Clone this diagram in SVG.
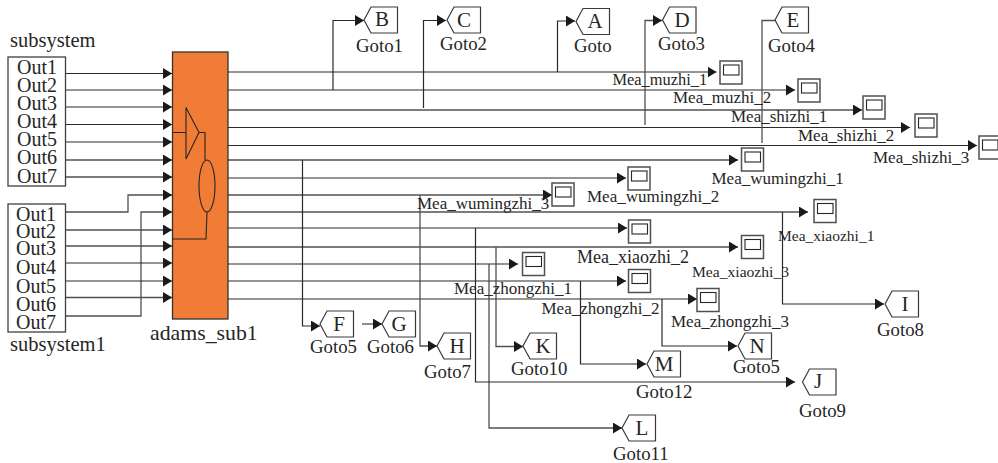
<svg xmlns="http://www.w3.org/2000/svg" width="998" height="463" viewBox="0 0 998 463">
<style>
text{font-family:"Liberation Serif","Times New Roman",serif;fill:#262626}
.lg{font-size:20.500px}
.ou{font-size:20px}
.go{font-size:18.800px}
.me{font-size:17px}
.le{font-size:21px;text-anchor:middle}
.w{fill:none;stroke:#2a2a2a;stroke-width:1.2}
.g{fill:none;stroke:#505050;stroke-width:1.3}
.a{marker-end:url(#arr)}
.box{fill:#fff;stroke:#404040;stroke-width:1.3}
.ic{fill:none;stroke:#262626;stroke-width:1.1}
</style>
<defs>
<marker id="arr" markerUnits="userSpaceOnUse" markerWidth="9" markerHeight="11" refX="9" refY="5.500" orient="auto"><path d="M0 0L9 5.500L0 11Z" fill="#1a1a1a"/></marker>
<polygon id="hex" points="0,13 7,0 33.500,0 33.500,26 7,26" fill="#fff" stroke="#3a3a3a" stroke-width="1.2"/>
<g id="sc"><rect width="22" height="23" fill="#fff" stroke="#505050" stroke-width="1.5"/><rect x="3.500" y="4" width="15.500" height="10" fill="none" stroke="#262626" stroke-width="1.1"/></g>
</defs>
<rect width="998" height="463" fill="#fff"/>
<g id="connectors">
<path class="w a" d="M65 73.500H172"/><path class="w a" d="M65 90H172"/><path class="w a" d="M65 107H172"/><path class="w a" d="M65 124.500H172"/><path class="w a" d="M65 142H172"/><path class="g a" d="M65 160H172"/><path class="g a" d="M65 177H172"/>
<path class="g a" d="M65 212H128V195H172"/><path class="g a" d="M65 316H141V212H172"/><path class="g a" d="M65 230H172"/><path class="g a" d="M65 246H172"/><path class="w a" d="M65 263H172"/><path class="w a" d="M65 281H172"/><path class="g a" d="M65 297.500H172"/>
<path class="w a" d="M228 72H716.500"/><path class="w a" d="M228 90H795"/><path class="g a" d="M228 110H862"/><path class="w a" d="M228 127.500H910"/><path class="w a" d="M228 145.500H977"/><path class="g a" d="M228 160H738"/><path class="w a" d="M228 178H626"/><path class="g a" d="M228 195H552"/>
<path class="g a" d="M228 212H808"/><path class="w a" d="M228 228H627"/><path class="g a" d="M228 247H738"/><path class="w a" d="M228 264H518"/><path class="w a" d="M228 281H626"/><path class="w a" d="M228 299H697"/>
<path class="w a" d="M333 90V20.500H364"/><path class="w a" d="M423.500 108V20.500H446"/><path class="w a" d="M557.500 72V21H575"/><path class="g a" d="M645 125V20.500H662"/><path class="g" d="M762 143V20.500H775"/>
<path class="w a" d="M302.500 160V326H320"/><path class="g a" d="M362 324H382"/><path class="g a" d="M420 195V346H437"/><path class="g a" d="M496 247V346.500H523"/><path class="g a" d="M489 264V428H622"/><path class="w a" d="M475.500 228V382H795"/><path class="w a" d="M580.500 281V364H646"/><path class="w a" d="M662 299V346H737"/><path class="w a" d="M782.500 212V304H884"/>
</g>
<g id="subsystem"><rect class="box" x="8" y="57" width="57.500" height="129"/><text class="lg" x="10" y="47">subsystem</text><text class="ou" x="17" y="74">Out1</text><text class="ou" x="17" y="92">Out2</text><text class="ou" x="17" y="110">Out3</text><text class="ou" x="17" y="128">Out4</text><text class="ou" x="17" y="146">Out5</text><text class="ou" x="17" y="164">Out6</text><text class="ou" x="17" y="183">Out7</text></g>
<g id="subsystem1"><rect class="box" x="8" y="204" width="57.500" height="128"/><text class="ou" x="16" y="220.500">Out1</text><text class="ou" x="16" y="237.500">Out2</text><text class="ou" x="16" y="255">Out3</text><text class="ou" x="16" y="274">Out4</text><text class="ou" x="16" y="292.500">Out5</text><text class="ou" x="16" y="310.500">Out6</text><text class="ou" x="16" y="329">Out7</text><text class="lg" x="10" y="351">subsystem1</text></g>
<g id="adams_sub1"><rect x="172.500" y="52" width="55.500" height="267" fill="#F07C36" stroke="#333" stroke-width="1.300"/><path class="ic" d="M172.500 132.500H186M186 107.500L199 132.500L186 159ZM199 132.500H205V160M207 212L206 239H172.500"/><ellipse class="ic" cx="207" cy="186" rx="8" ry="26"/><text class="lg" style="font-size:21.800px" x="150" y="340">adams_sub1</text></g>
<g id="goto_b"><use href="#hex" x="364" y="7"/><text class="le" x="382" y="26">B</text><text class="go" x="356" y="52">Goto1</text></g>
<g id="goto_c"><use href="#hex" x="447" y="7"/><text class="le" x="464" y="27">C</text><text class="go" x="440" y="50">Goto2</text></g>
<g id="goto_a"><use href="#hex" x="576" y="8.500"/><text class="le" x="595" y="28">A</text><text class="go" x="574" y="52">Goto</text></g>
<g id="goto_d"><use href="#hex" x="662.500" y="7"/><text class="le" x="682" y="27">D</text><text class="go" x="658" y="50">Goto3</text></g>
<g id="goto_e"><use href="#hex" x="775" y="7"/><text class="le" x="793" y="27">E</text><text class="go" x="768" y="52">Goto4</text></g>
<g id="goto_f"><use href="#hex" x="320" y="311"/><text class="le" x="339" y="331">F</text><text class="go" x="310" y="353">Goto5</text></g>
<g id="goto_g"><use href="#hex" x="382" y="311"/><text class="le" x="399" y="331">G</text><text class="go" x="367" y="353">Goto6</text></g>
<g id="goto_h"><use href="#hex" x="437" y="333"/><text class="le" x="457" y="353">H</text><text class="go" x="424" y="378">Goto7</text></g>
<g id="goto_k"><use href="#hex" x="523" y="333"/><text class="le" x="543" y="353">K</text><text class="go" x="511" y="375">Goto10</text></g>
<g id="goto_l"><use href="#hex" x="622" y="415"/><text class="le" x="642" y="435">L</text><text class="go" x="613" y="460">Goto11</text></g>
<g id="goto_m"><use href="#hex" x="647" y="351"/><text class="le" x="664" y="371">M</text><text class="go" x="636" y="398">Goto12</text></g>
<g id="goto_n"><use href="#hex" x="738" y="333"/><text class="le" x="757" y="353">N</text><text class="go" x="733" y="373">Goto5</text></g>
<g id="goto_j"><use href="#hex" x="802.500" y="369"/><text class="le" x="818" y="388">J</text><text class="go" x="799" y="417">Goto9</text></g>
<g id="goto_i"><use href="#hex" x="885" y="291"/><text class="le" x="905" y="311">I</text><text class="go" x="877" y="336">Goto8</text></g>
<g id="mea_muzhi_1"><use href="#sc" x="720" y="61"/><text class="me" x="612.500" y="85" style="font-size:16.400px">Mea_muzhi_1</text></g>
<g id="mea_muzhi_2"><use href="#sc" x="798" y="79"/><text class="me" x="673" y="102.500">Mea_muzhi_2</text></g>
<g id="mea_shizhi_1"><use href="#sc" x="863" y="96"/><text class="me" x="731" y="122">Mea_shizhi_1</text></g>
<g id="mea_shizhi_2"><use href="#sc" x="915" y="114"/><text class="me" x="798" y="140.500">Mea_shizhi_2</text></g>
<g id="mea_shizhi_3"><use href="#sc" x="979" y="136"/><text class="me" x="873" y="163">Mea_shizhi_3</text></g>
<g id="mea_wumingzhi_1"><use href="#sc" x="741.500" y="148"/><text class="me" x="711.500" y="184">Mea_wumingzhi_1</text></g>
<g id="mea_wumingzhi_2"><use href="#sc" x="628" y="167"/><text class="me" x="587" y="202">Mea_wumingzhi_2</text></g>
<g id="mea_wumingzhi_3"><use href="#sc" x="552" y="183"/><text class="me" x="417" y="209">Mea_wumingzhi_3</text></g>
<g id="mea_xiaozhi_1"><use href="#sc" x="814" y="199.500"/><text class="me" x="778" y="241" style="font-size:15.500px">Mea_xiaozhi_1</text></g>
<g id="mea_xiaozhi_2"><use href="#sc" x="628.500" y="220"/><text class="me" x="577" y="263" style="font-size:18px">Mea_xiaozhi_2</text></g>
<g id="mea_xiaozhi_3"><use href="#sc" x="741.500" y="235.500"/><text class="me" x="692" y="277" style="font-size:15.600px">Mea_xiaozhi_3</text></g>
<g id="mea_zhongzhi_1"><use href="#sc" x="522.500" y="252.500"/><text class="me" x="454" y="294">Mea_zhongzhi_1</text></g>
<g id="mea_zhongzhi_2"><use href="#sc" x="628.500" y="269.500"/><text class="me" x="541.500" y="314">Mea_zhongzhi_2</text></g>
<g id="mea_zhongzhi_3"><use href="#sc" x="697" y="288.500"/><text class="me" x="671" y="326.500">Mea_zhongzhi_3</text></g>
</svg>
